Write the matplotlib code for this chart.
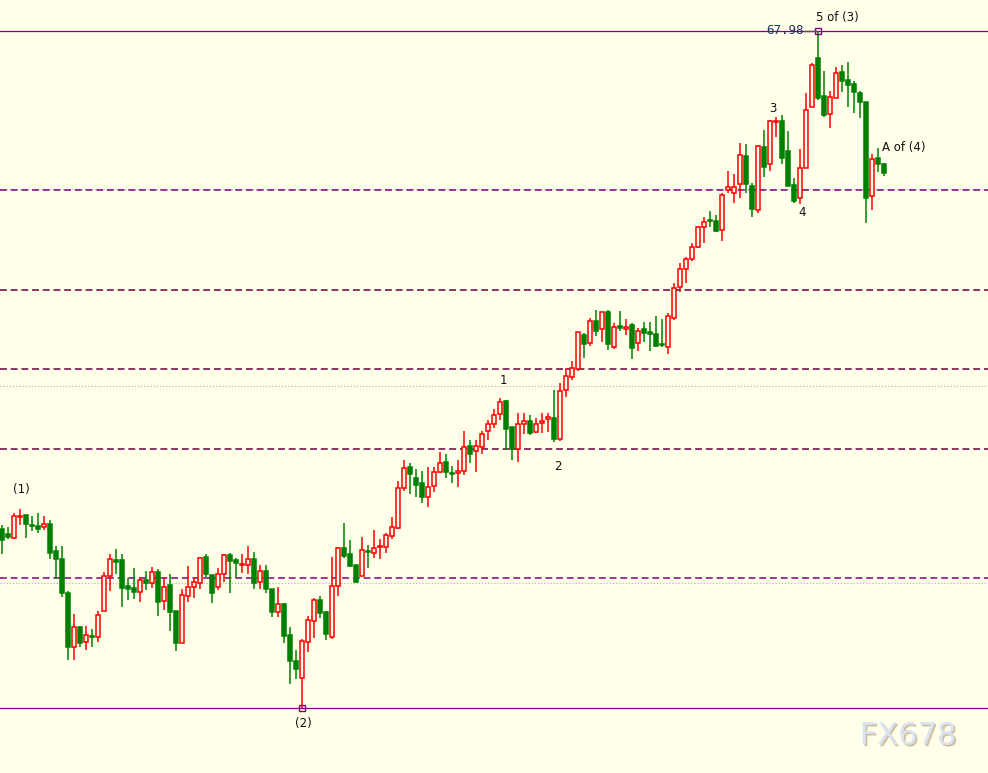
import matplotlib
matplotlib.use("Agg")
import numpy as np
from matplotlib import pyplot as plt
import matplotlib.patheffects as pe

# candle data (oldest -> newest)
opens = [63.00, 62.95, 62.91, 63.12, 63.14, 63.04, 63.03, 63.02, 63.05, 62.78,
         62.70, 62.36, 61.82, 62.02, 61.87, 61.93, 61.92, 62.18, 62.53, 62.69,
         62.69, 62.43, 62.41, 62.37, 62.49, 62.46, 62.57, 62.28, 62.44, 62.18,
         61.86, 62.33, 62.42, 62.46, 62.72, 62.54, 62.42, 62.55, 62.74, 62.69,
         62.64, 62.64, 62.70, 62.47, 62.58, 62.40, 62.17, 62.25, 61.94, 61.68,
         61.51, 61.87, 62.08, 62.29, 62.17, 61.92, 62.43, 62.81, 62.75, 62.64,
         62.53, 62.78, 62.76, 62.82, 62.82, 62.93, 63.01, 63.41, 63.62, 63.51,
         63.46, 63.32, 63.43, 63.57, 63.67, 63.56, 63.56, 63.58, 63.83, 63.78,
         63.82, 63.98, 64.05, 64.15, 64.28, 64.02, 63.80, 64.05, 64.08, 63.97,
         64.06, 64.10, 64.11, 63.90, 64.39, 64.52, 64.60, 64.94, 64.86, 65.08,
         65.00, 65.17, 64.82, 65.03, 65.00, 65.04, 64.86, 65.00, 64.97, 64.95,
         64.85, 64.82, 65.11, 65.42, 65.60, 65.70, 65.82, 66.02, 66.09, 66.08,
         65.99, 66.39, 66.36, 66.45, 66.73, 66.43, 66.19, 66.82, 66.65, 67.07,
         67.08, 66.78, 66.44, 66.31, 66.61, 67.22, 67.71, 67.33, 67.15, 67.31,
         67.57, 67.49, 67.45, 67.36, 67.27, 66.33, 66.71, 66.65]
highs = [63.04, 63.02, 63.16, 63.20, 63.14, 63.13, 63.16, 63.13, 63.09, 62.83,
         62.83, 62.38, 62.15, 62.03, 62.03, 62.00, 62.18, 62.57, 62.75, 62.80,
         62.75, 62.51, 62.61, 62.52, 62.58, 62.62, 62.60, 62.52, 62.55, 62.18,
         62.40, 62.63, 62.52, 62.72, 62.75, 62.54, 62.61, 62.75, 62.76, 62.71,
         62.75, 62.83, 62.77, 62.64, 62.64, 62.40, 62.42, 62.26, 62.02, 61.79,
         61.90, 62.13, 62.31, 62.33, 62.18, 62.72, 62.82, 63.06, 62.89, 62.64,
         62.92, 62.84, 62.99, 62.90, 62.96, 63.12, 63.48, 63.69, 63.66, 63.60,
         63.58, 63.62, 63.62, 63.77, 63.75, 63.63, 63.69, 63.98, 63.89, 63.89,
         63.98, 64.09, 64.20, 64.31, 64.29, 64.02, 64.16, 64.16, 64.14, 64.11,
         64.16, 64.16, 64.39, 64.46, 64.61, 64.68, 64.97, 64.96, 65.11, 65.19,
         65.17, 65.19, 65.06, 65.18, 65.10, 65.06, 65.01, 65.07, 65.07, 65.13,
         65.10, 65.16, 65.46, 65.66, 65.72, 65.86, 66.03, 66.12, 66.18, 66.14,
         66.36, 66.58, 66.55, 66.86, 66.85, 66.46, 66.84, 66.99, 67.09, 67.12,
         67.14, 66.98, 66.51, 66.80, 67.36, 67.66, 67.98, 67.58, 67.38, 67.62,
         67.64, 67.67, 67.48, 67.38, 67.27, 66.75, 66.81, 66.66]
lows = [62.75, 62.90, 62.90, 63.04, 62.91, 62.98, 62.96, 62.99, 62.70, 62.50,
        62.32, 61.69, 61.69, 61.82, 61.79, 61.82, 61.87, 62.18, 62.38, 62.55,
        62.22, 62.29, 62.30, 62.27, 62.39, 62.41, 62.13, 62.19, 61.98, 61.78,
        61.86, 62.27, 62.31, 62.40, 62.52, 62.26, 62.39, 62.47, 62.36, 62.51,
        62.56, 62.55, 62.40, 62.40, 62.36, 62.12, 62.12, 61.86, 61.45, 61.50,
        61.21, 61.77, 61.91, 62.11, 61.89, 61.90, 62.33, 62.71, 62.62, 62.46,
        62.53, 62.61, 62.71, 62.70, 62.76, 62.90, 63.00, 63.38, 63.35, 63.32,
        63.26, 63.22, 63.37, 63.56, 63.51, 63.46, 63.42, 63.54, 63.66, 63.57,
        63.75, 63.89, 64.01, 64.09, 63.79, 63.69, 63.67, 63.95, 63.94, 63.96,
        63.96, 63.97, 63.87, 63.88, 64.32, 64.49, 64.58, 64.71, 64.83, 64.93,
        64.87, 64.79, 64.80, 64.98, 64.94, 64.70, 64.78, 64.87, 64.78, 64.82,
        64.82, 64.75, 65.09, 65.37, 65.46, 65.68, 65.81, 65.86, 66.02, 65.97,
        65.88, 66.36, 66.26, 66.31, 66.36, 66.12, 66.16, 66.52, 66.58, 66.92,
        66.65, 66.43, 66.26, 66.25, 66.61, 67.22, 67.29, 67.12, 67.01, 67.31,
        67.37, 67.22, 67.16, 67.11, 66.06, 66.19, 66.57, 66.53]
closes = [62.89, 62.92, 63.13, 63.13, 63.05, 63.03, 63.00, 63.05, 62.76, 62.70,
          62.36, 61.82, 62.02, 61.86, 61.94, 61.92, 62.14, 62.53, 62.70, 62.67,
          62.41, 62.40, 62.37, 62.49, 62.46, 62.57, 62.27, 62.42, 62.17, 61.86,
          62.34, 62.42, 62.47, 62.71, 62.55, 62.36, 62.55, 62.74, 62.68, 62.66,
          62.65, 62.70, 62.46, 62.58, 62.40, 62.17, 62.25, 61.93, 61.68, 61.60,
          61.88, 62.09, 62.29, 62.16, 61.95, 62.43, 62.81, 62.73, 62.63, 62.47,
          62.79, 62.77, 62.81, 62.83, 62.94, 63.02, 63.41, 63.61, 63.55, 63.44,
          63.32, 63.42, 63.57, 63.66, 63.57, 63.55, 63.58, 63.82, 63.75, 63.83,
          63.95, 64.05, 64.14, 64.27, 64.00, 63.80, 64.05, 64.08, 63.96, 64.05,
          64.08, 64.12, 63.90, 64.38, 64.53, 64.61, 64.97, 64.85, 65.08, 64.98,
          65.17, 64.85, 65.02, 65.01, 65.02, 64.81, 64.98, 64.96, 64.95, 64.83,
          64.84, 65.13, 65.41, 65.60, 65.70, 65.82, 66.02, 66.07, 66.08, 65.98,
          66.34, 66.42, 66.42, 66.74, 66.45, 66.20, 66.83, 66.62, 67.08, 67.08,
          66.71, 66.43, 66.28, 66.61, 67.19, 67.64, 67.31, 67.14, 67.32, 67.56,
          67.48, 67.44, 67.37, 67.27, 66.31, 66.70, 66.65, 66.56]

# horizontal levels
levels = [67.98, 66.39, 65.39, 64.60, 63.80, 62.51, 61.21]
level_colors = ["#800080", "#800080", "#6a0042", "#6a0042", "#6a0042", "#800080", "#800080"]
level_styles = ["solid", "dashed", "dashed", "dashed", "dashed", "dashed", "solid"]
dotted_levels = [66.40, 64.43, 62.46]

# wave labels: text, bar index, price
wave_text = ["(1)", "1", "2", "3", "4", "5 of (3)", "A of (4)", "(2)"]
wave_x = [3.3, 83.5, 92.7, 128.5, 133.3, 139.3, 150.3, 50.2]
wave_y = [63.39, 64.48, 63.63, 67.21, 66.16, 68.11, 66.82, 61.06]

bg = "#ffffea"
up_col = "#ff0000"
dn_col = "#008000"

fig = plt.figure(figsize=(9.88, 7.73), dpi=100)
fig.patch.set_facecolor(bg)
ax = fig.add_axes([0, 0, 1, 1])
ax.set_facecolor(bg)

o = np.array(opens)
h = np.array(highs)
l = np.array(lows)
c = np.array(closes)
idx = np.arange(len(o))
up = c >= o

for lv, col, ls in zip(levels, level_colors, level_styles):
    if ls == "dashed":
        ax.axhline(lv, color=col, lw=1.1, linestyle=(0, (4.5, 2.5)), zorder=1)
    else:
        ax.axhline(lv, color=col, lw=0.9, zorder=1)
for lv in dotted_levels:
    ax.axhline(lv, color="#b8b8b0", lw=0.9, linestyle=(0, (1, 1.5)), zorder=0.9)

# wicks
ax.vlines(idx[up], l[up], h[up], color=up_col, lw=1.1, zorder=2)
ax.vlines(idx[~up], l[~up], h[~up], color=dn_col, lw=1.1, zorder=2)

# bodies
w = 0.62
ax.bar(idx[up], c[up] - o[up], bottom=o[up], width=w, facecolor=bg,
       edgecolor=up_col, linewidth=1.1, zorder=3)
ax.bar(idx[~up], o[~up] - c[~up], bottom=c[~up], width=w, facecolor=dn_col,
       edgecolor=dn_col, linewidth=1.1, zorder=3)

# extreme markers
hi_i = int(np.argmax(h))
lo_i = int(np.argmin(l))
ax.plot([hi_i, lo_i], [h[hi_i], l[lo_i]], linestyle="none", marker="s", ms=5,
        mfc="none", mec="#800080", mew=1.0, zorder=4)
ax.plot([hi_i - 2.4, hi_i - 0.4], [h[hi_i], h[hi_i]], color="#555555", lw=1.0, zorder=4)
ax.text(hi_i - 2.4, h[hi_i], "67.98", ha="right", va="center", fontsize=9,
        family="DejaVu Sans Mono", color="#1d3557", zorder=5)

for t, x, y in zip(wave_text, wave_x, wave_y):
    ax.text(x, y, t, ha="center", va="center", fontsize=8.5, color="#111111", zorder=5)

# watermark
ax.text(151.0, 60.93, "FX678", ha="center", va="center", fontsize=22,
        color="#d8e4f4", zorder=5,
        path_effects=[pe.withSimplePatchShadow(offset=(1.2, -1.2), shadow_rgbFace="#c8b08a", alpha=0.8)])

ax.set_xlim(-1 / 3, 164.33)
ax.set_ylim(60.56, 68.29)
ax.set_xticks([])
ax.set_yticks([])
for s in ax.spines.values():
    s.set_visible(False)

fig.savefig("out.png", dpi=100, facecolor=bg)
